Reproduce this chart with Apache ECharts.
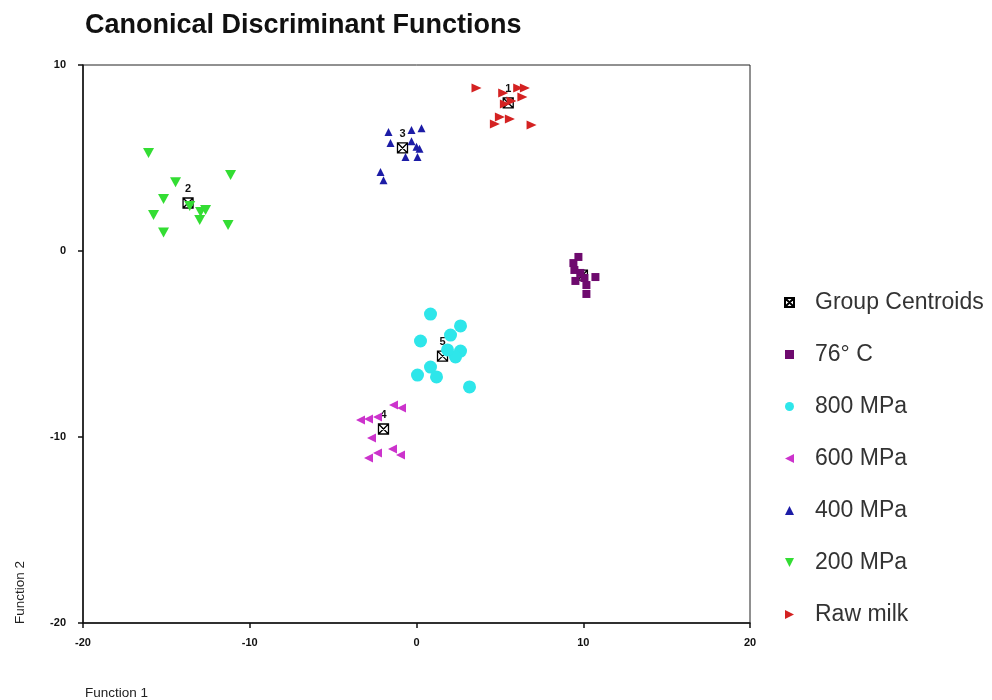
<!DOCTYPE html>
<html>
<head>
<meta charset="utf-8">
<title>Canonical Discriminant Functions</title>
<script src="https://cdn.jsdelivr.net/npm/echarts@6/dist/echarts.min.js"></script>
<style>
  html, body { margin: 0; padding: 0; background: #fff; }
  #chart { width: 992px; height: 700px; }
</style>
</head>
<body>
<div id="chart"></div>
<script>
// group scores, [function 1, function 2]
const rawMilk = [[3.6, 8.76], [5.2, 8.5], [6.1, 8.76], [6.5, 8.76], [6.35, 8.28], [5.3, 7.9],
  [5.7, 8.06], [5.0, 7.2], [5.6, 7.1], [4.7, 6.83], [6.9, 6.77]];
const mpa200 = [[-16.07, 5.27], [-14.45, 3.7], [-11.15, 4.09], [-15.17, 2.8], [-13.6, 2.42],
  [-12.95, 2.1], [-12.65, 2.2], [-13.0, 1.67], [-15.77, 1.94], [-11.3, 1.4], [-15.17, 1.0]];
const mpa400 = [[-1.68, 6.4], [-0.3, 6.5], [0.3, 6.6], [-1.56, 5.8], [-0.3, 5.9], [0.0, 5.6],
  [0.18, 5.5], [-0.66, 5.05], [0.06, 5.05], [-2.16, 4.25], [-1.98, 3.8]];
const mpa600 = [[-1.38, -8.28], [-0.9, -8.44], [-3.36, -9.09], [-2.88, -9.03], [-2.34, -8.92],
  [-2.7, -10.05], [-1.44, -10.65], [-0.96, -10.97], [-2.34, -10.86], [-2.88, -11.13]];
const mpa800 = [[0.84, -3.39], [2.64, -4.03], [2.04, -4.52], [0.24, -4.84], [2.64, -5.38],
  [2.34, -5.7], [1.86, -5.32], [0.84, -6.24], [0.06, -6.67], [1.2, -6.77], [3.18, -7.31]];
const heat76 = [[9.71, -0.32], [9.41, -0.65], [9.47, -1.02], [9.83, -1.18], [9.53, -1.61],
  [10.07, -1.45], [10.73, -1.4], [10.19, -1.83], [10.19, -2.31]];
const centroids = [[5.5, 7.96], [-13.7, 2.58], [-0.84, 5.54], [-1.98, -9.57], [1.56, -5.65], [9.95, -1.3]];
const centroidLabels = ['1', '2', '3', '4', '5', ''];

const legendOrder = ['Group Centroids', '76° C', '800 MPa', '600 MPa', '400 MPa', '200 MPa', 'Raw milk'];
const xTicks = [-20, -10, 0, 10, 20];
const yTicks = [-20, -10, 0, 10];

const chart = echarts.init(document.getElementById('chart'));

const font = 'Liberation Sans, Arial, sans-serif';

// marker per group: symbol and size in the plot
const marks = {
  'Group Centroids': ['path://M0,0H10V10H0Z M0,0L10,10 M10,0L0,10', 10],
  '76° C': ['rect', 8],
  '800 MPa': ['circle', 13],
  '600 MPa': ['path://M10,0L0,5L10,10Z', [9, 9]],
  '400 MPa': ['triangle', [8, 8]],
  '200 MPa': ['path://M0,0L10,0L5,10Z', [11, 10]],
  'Raw milk': ['path://M0,0L10,5L0,10Z', [10, 9]]
};

function group(name, data, color) {
  return {
    name: name,
    type: 'scatter',
    data: data,
    symbol: marks[name][0],
    symbolSize: marks[name][1],
    itemStyle: { color: color, opacity: 1 },
    emphasis: { disabled: true },
    z: 3
  };
}

const option = {
  backgroundColor: '#fff',
  animation: false,
  title: {
    text: 'Canonical Discriminant Functions',
    left: 80,
    top: 7,
    textStyle: { fontFamily: font, fontSize: 27, fontWeight: 'bold', color: '#111' }
  },
  grid: {
    left: 83, top: 65, right: 242, bottom: 77,
    show: true, borderColor: '#222', borderWidth: 1
  },
  legend: {
    orient: 'vertical',
    left: 779,
    top: 286,
    itemWidth: 9,
    itemHeight: 9,
    itemGap: 29,
    data: legendOrder.map(n => ({ name: n, icon: marks[n][0] })),
    textStyle: { fontFamily: font, fontSize: 23, color: '#333', padding: [0, 0, 0, 16] }
  },
  xAxis: {
    type: 'value',
    min: -20, max: 20, interval: 10,
    axisLine: { onZero: false, lineStyle: { color: '#111', width: 1.5 } },
    axisTick: { show: true, length: 5, lineStyle: { color: '#111', width: 1.5 } },
    axisLabel: {
      margin: 14, fontFamily: font, fontSize: 11, fontWeight: 'bold', color: '#111',
      customValues: xTicks
    },
    splitLine: { show: false }
  },
  yAxis: {
    type: 'value',
    min: -20, max: 10, interval: 10,
    axisLine: { onZero: false, lineStyle: { color: '#111', width: 1.5 } },
    axisTick: { show: true, length: 5, lineStyle: { color: '#111', width: 1.5 } },
    axisLabel: {
      margin: 17, fontFamily: font, fontSize: 11, fontWeight: 'bold', color: '#111',
      customValues: yTicks
    },
    splitLine: { show: false }
  },
  graphic: [
    {
      type: 'text', left: 85, top: 686,
      style: { text: 'Function 1', fontFamily: font, fontSize: 13.5, fill: '#222' }
    },
    {
      type: 'text', x: 13, y: 624, rotation: Math.PI / 2,
      style: { text: 'Function 2', fontFamily: font, fontSize: 13.5, fill: '#222', align: 'left', verticalAlign: 'top' }
    }
  ],
  series: [
    {
      name: 'Group Centroids',
      type: 'scatter',
      data: centroids.map((c, i) => ({ value: c, label: { formatter: centroidLabels[i] } })),
      symbol: marks['Group Centroids'][0],
      symbolSize: marks['Group Centroids'][1],
      itemStyle: { color: '#fff', borderColor: '#000', borderWidth: 1.3, opacity: 1 },
      label: {
        show: true, position: 'top', distance: 3,
        fontFamily: font, fontSize: 11, fontWeight: 'bold', color: '#111'
      },
      emphasis: { disabled: true },
      z: 2
    },
    group('76° C', heat76, '#6e0a6e'),
    group('800 MPa', mpa800, '#2ee6ea'),
    group('600 MPa', mpa600, '#cc33cc'),
    group('400 MPa', mpa400, '#1c1ca6'),
    group('200 MPa', mpa200, '#33dd33'),
    group('Raw milk', rawMilk, '#d42222')
  ]
};

chart.setOption(option);
</script>
</body>
</html>
